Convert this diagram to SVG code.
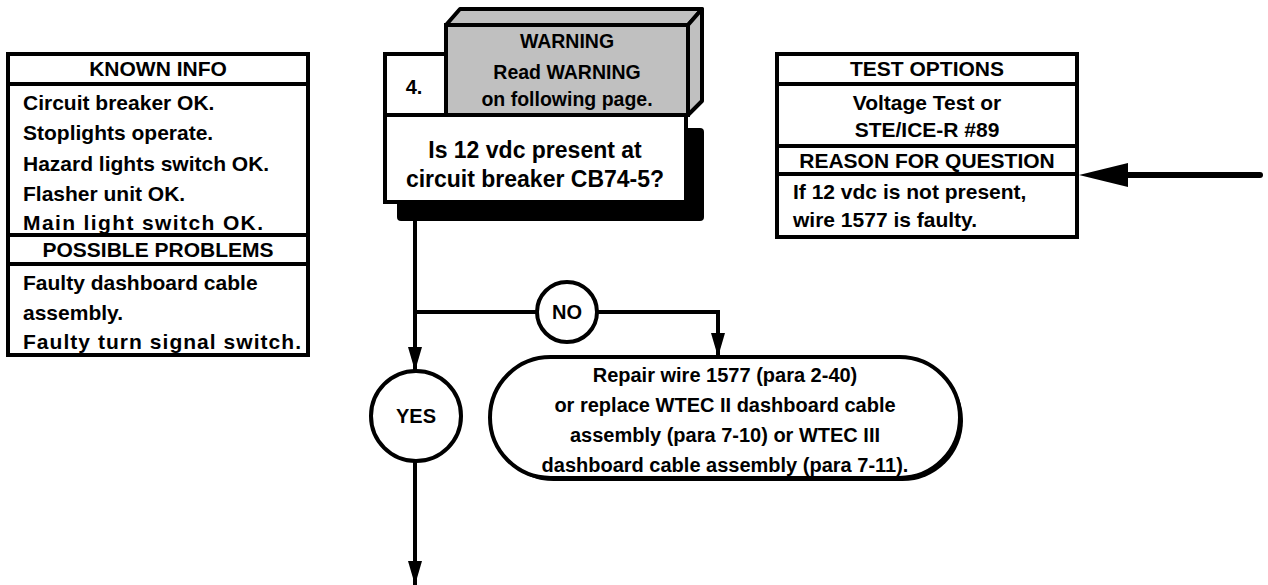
<svg xmlns="http://www.w3.org/2000/svg" width="1268" height="585" viewBox="0 0 1268 585">
<style>
text{font-family:"Liberation Sans",Arial,sans-serif;font-weight:bold;fill:#000}
.box{fill:#fff;stroke:#000;stroke-width:4}
.ln{stroke:#000;stroke-width:4;fill:none}
.c{text-anchor:middle}
.f21{font-size:21px}
.f19{font-size:19.5px}
.f23{font-size:23px}
.f20{font-size:20px}
</style>
<defs>
<marker id="ah" markerUnits="userSpaceOnUse" markerWidth="24" markerHeight="14" refX="24" refY="7" orient="auto" viewBox="0 0 24 14">
<path d="M0,0 L24,7 L0,14 Z" fill="#000"/>
</marker>
</defs>
<rect width="1268" height="585" fill="#fff"/>

<g id="known-info">
<rect class="box" x="8" y="54" width="300" height="301"/>
<line class="ln" x1="8" y1="84" x2="308" y2="84"/>
<line class="ln" x1="8" y1="235" x2="308" y2="235"/>
<line class="ln" x1="8" y1="264" x2="308" y2="264"/>
<text class="f21 c" x="158" y="76">KNOWN INFO</text>
<text class="f21" x="23" y="110">Circuit breaker OK.</text>
<text class="f21" x="23" y="140">Stoplights operate.</text>
<text class="f21" x="23" y="171">Hazard lights switch OK.</text>
<text class="f21" x="23" y="201">Flasher unit OK.</text>
<text class="f21" x="23" y="230" textLength="240" lengthAdjust="spacing">Main light switch OK.</text>
<text class="f21 c" x="158" y="257">POSSIBLE PROBLEMS</text>
<text class="f21" x="23" y="290">Faulty dashboard cable</text>
<text class="f21" x="23" y="320">assembly.</text>
<text class="f21" x="23" y="349" textLength="278" lengthAdjust="spacing">Faulty turn signal switch.</text>
</g>

<g id="step4">
<rect x="397" y="128" width="307" height="93" rx="4" fill="#000"/>
<polygon points="446,25 460,9 702,9 688,25" fill="#c0c0c0" stroke="#000" stroke-width="4" stroke-linejoin="round"/>
<polygon points="688,25 702,9 702,101 688,115" fill="#c0c0c0" stroke="#000" stroke-width="4" stroke-linejoin="round"/>
<rect x="446" y="25" width="242" height="90" fill="#c0c0c0" stroke="#000" stroke-width="4"/>
<rect class="box" x="385" y="54" width="61" height="61"/>
<rect class="box" x="385" y="115" width="301" height="87"/>
<text class="f20 c" x="414" y="94">4.</text>
<text class="f19 c" x="567" y="48">WARNING</text>
<text class="f19 c" x="567" y="79">Read WARNING</text>
<text class="f19 c" x="567" y="106">on following page.</text>
<text class="f23 c" x="535" y="158">Is 12 vdc present at</text>
<text class="f23 c" x="535" y="187">circuit breaker CB74-5?</text>
</g>

<g id="test-options">
<rect class="box" x="777" y="54" width="300" height="183"/>
<line class="ln" x1="777" y1="84" x2="1077" y2="84"/>
<line class="ln" x1="777" y1="146" x2="1077" y2="146"/>
<line class="ln" x1="777" y1="174" x2="1077" y2="174"/>
<text class="f21 c" x="927" y="76">TEST OPTIONS</text>
<text class="f21 c" x="927" y="110">Voltage Test or</text>
<text class="f21 c" x="927" y="137">STE/ICE-R #89</text>
<text class="f21 c" x="927" y="168">REASON FOR QUESTION</text>
<text class="f21" x="793" y="199">If 12 vdc is not present,</text>
<text class="f21" x="793" y="227">wire 1577 is faulty.</text>
</g>

<g id="no-circle">
<circle class="box" cx="567" cy="312" r="30"/>
<text class="f20 c" x="567" y="319">NO</text>
</g>

<g id="yes-circle">
<circle class="box" cx="416" cy="416" r="45"/>
<text class="f20 c" x="416" y="423">YES</text>
</g>

<g id="repair">
<rect x="493" y="360" width="470" height="121" rx="60.5" fill="#000"/>
<rect class="box" x="490" y="357" width="470" height="121" rx="60.5"/>
<text class="f20 c" x="725" y="382">Repair wire 1577 (para 2-40)</text>
<text class="f20 c" x="725" y="412">or replace WTEC II dashboard cable</text>
<text class="f20 c" x="725" y="442">assembly (para 7-10) or WTEC III</text>
<text class="f20 c" x="725" y="472">dashboard cable assembly (para 7-11).</text>
</g>

<g id="connectors">
<line class="ln" x1="415" y1="221" x2="415" y2="312"/>
<line class="ln" x1="415" y1="312" x2="537" y2="312"/>
<path class="ln" d="M597,312 H718 V357" marker-end="url(#ah)"/>
<line class="ln" x1="415" y1="310" x2="415" y2="371" marker-end="url(#ah)"/>
<line class="ln" x1="415" y1="461" x2="415" y2="585" marker-end="url(#ah)"/>
<line x1="1260" y1="175" x2="1120" y2="175" stroke="#000" stroke-width="6" stroke-linecap="round"/>
<polygon points="1079,175 1128,163 1128,187" fill="#000"/>
</g>
</svg>
